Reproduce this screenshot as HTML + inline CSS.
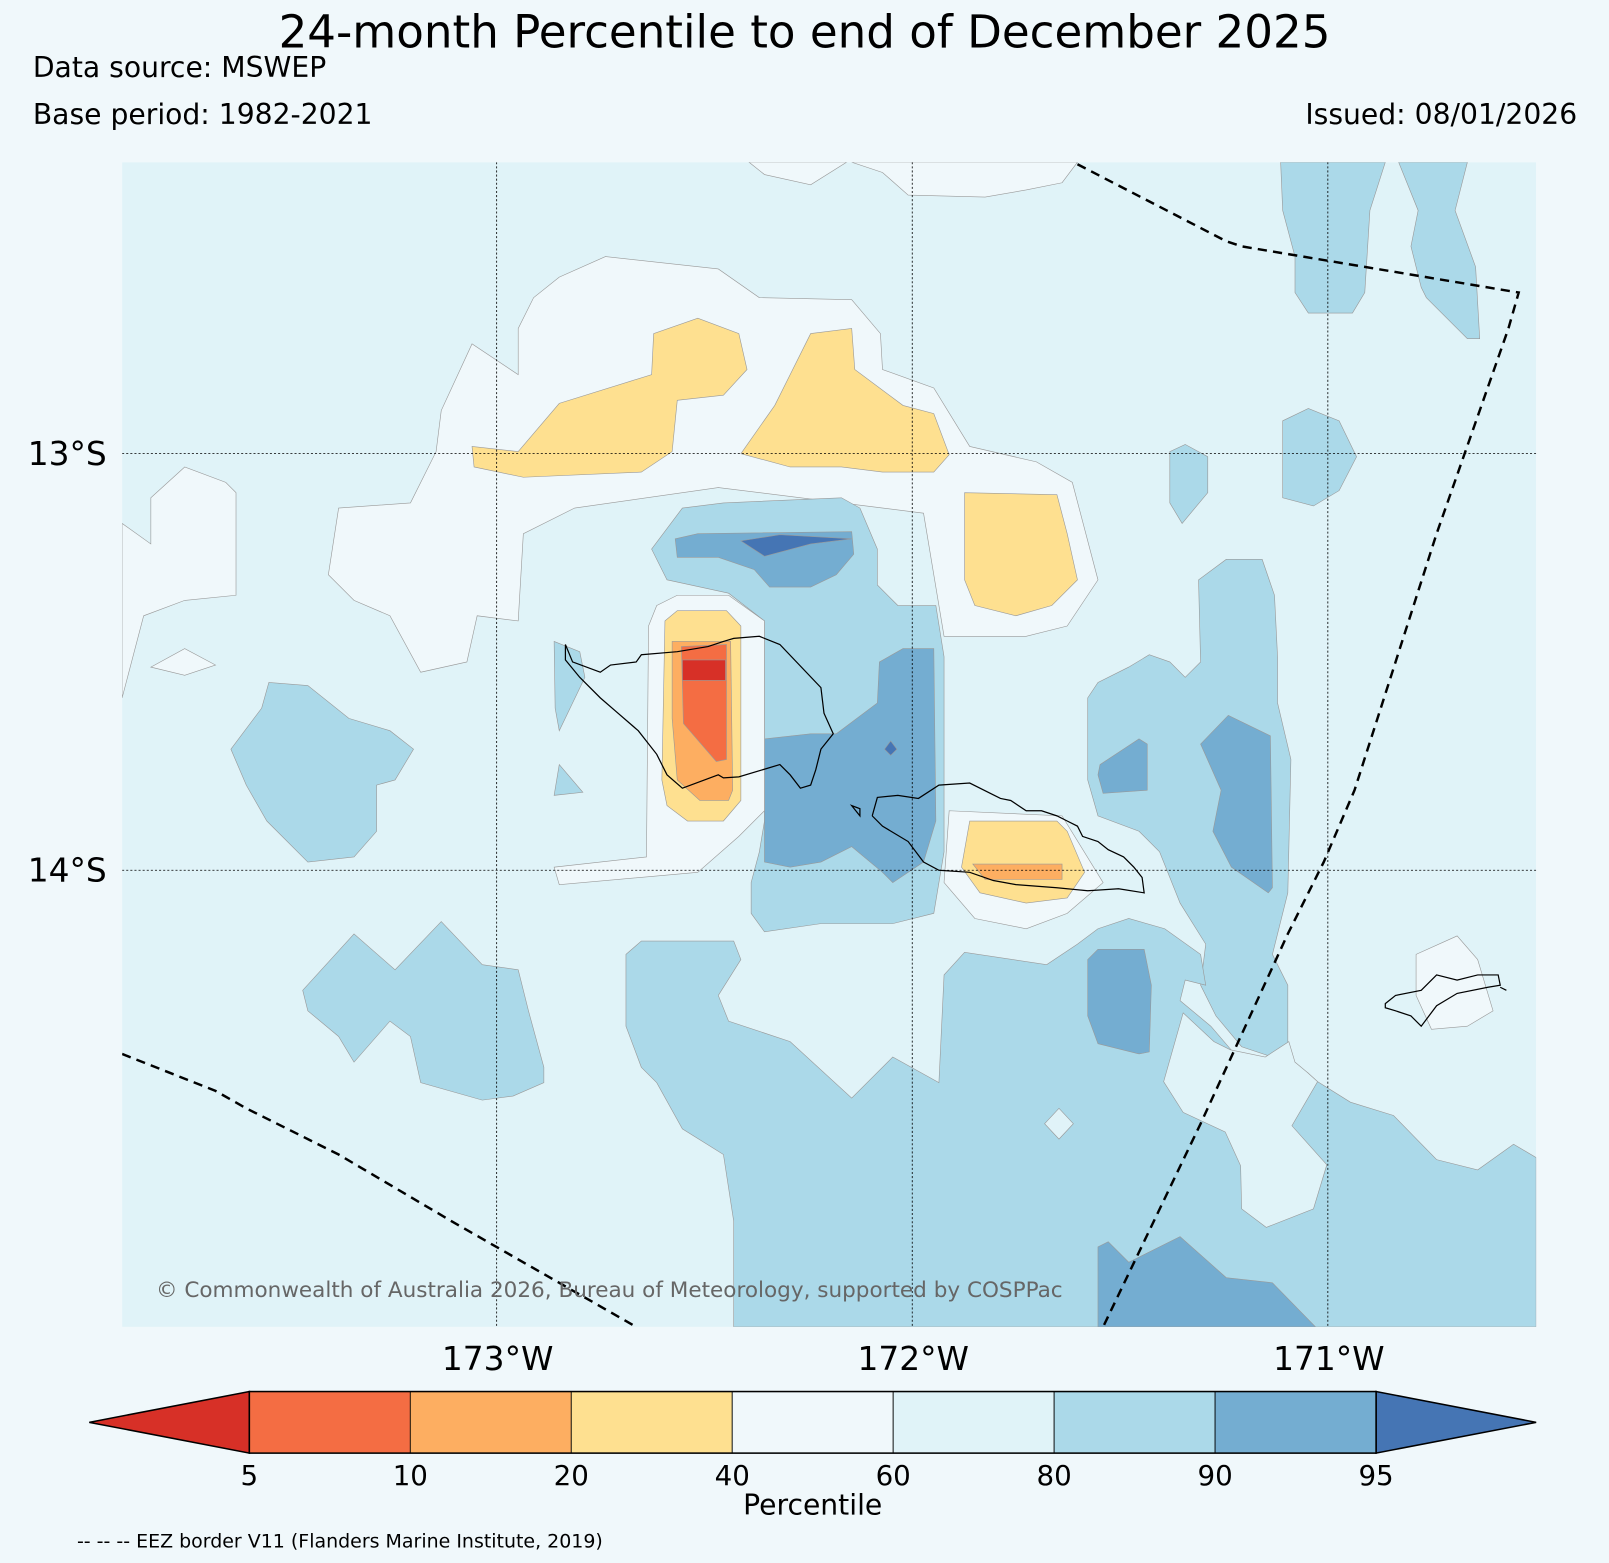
<!DOCTYPE html>
<html><head><meta charset="utf-8"><style>
html,body{margin:0;padding:0;background:#f0f8fb;}
svg{display:block;font-family:"DejaVu Sans","Liberation Sans",sans-serif;}
.c{stroke:#999;stroke-width:0.6;}
</style></head><body>
<svg id="fig" width="1609" height="1563" viewBox="0 0 1568 1523">
<rect width="1568" height="1523" fill="#f0f8fb"/>
<text x="784" y="46" font-size="44" text-anchor="middle">24-month Percentile to end of December 2025</text>
<text x="32" y="75" font-size="27.5">Data source: MSWEP</text>
<text x="32" y="121" font-size="27.5">Base period: 1982-2021</text>
<text x="1537" y="121" font-size="27.5" text-anchor="end">Issued: 08/01/2026</text>
<defs><clipPath id="mc"><rect x="119" y="158" width="1378" height="1135"/></clipPath></defs>
<g clip-path="url(#mc)">
<rect x="119" y="158" width="1378" height="1135" fill="#e0f3f8"/>
<g class="c">
<polygon fill="#f0f8fb" points="119,510 147,530 147,485 180,455 220,470 230,480 230,580 180,585 140,600 119,680"/>
<polygon fill="#f0f8fb" points="147,650 180,632 210,648 180,658"/>
<polygon fill="#f0f8fb" points="320,560 330,495 400,490 425,440 430,400 460,335 505,365 505,320 520,290 545,270 590,250 700,262 740,290 830,292 858,325 860,360 910,378 945,435 1010,450 1045,470 1070,565 1040,610 1000,620 920,620 900,500 700,475 560,495 510,520 505,605 465,600 455,645 410,655 380,600 345,585"/>
<polygon fill="#f0f8fb" points="730,158 745,170 790,180 825,158"/>
<polygon fill="#f0f8fb" points="830,158 860,168 885,190 960,192 1000,185 1035,178 1050,158"/>
<polygon fill="#fee090" points="460,435 505,440 545,393 635,365 637,325 680,310 720,325 728,360 705,385 660,390 655,440 625,460 510,465 462,455"/>
<polygon fill="#fee090" points="722,442 755,395 790,325 830,320 833,360 880,395 910,403 925,443 910,460 860,460 820,455 770,455"/>
<polygon fill="#fee090" points="940,480 1030,482 1040,520 1050,565 1025,590 990,600 950,590 940,565"/>
<polygon fill="#abd9e9" points="1248,158 1350,158 1335,205 1330,285 1318,305 1275,305 1262,285 1262,250 1250,205"/>
<polygon fill="#abd9e9" points="1363,158 1430,158 1418,205 1438,260 1442,330 1430,330 1390,290 1385,280 1375,240 1382,205"/>
<polygon fill="#abd9e9" points="1250,410 1275,398 1305,410 1322,445 1305,478 1280,493 1250,485"/>
<polygon fill="#abd9e9" points="1140,440 1155,433 1177,445 1177,480 1152,510 1140,490"/>
<polygon fill="#abd9e9" points="225,730 255,690 262,665 300,668 340,700 380,712 403,730 385,760 367,765 367,810 345,835 300,840 260,800 240,765"/>
<polygon fill="#abd9e9" points="540,625 565,635 570,660 545,712 541,690"/>
<polygon fill="#abd9e9" points="545,745 568,772 540,775"/>
<polygon fill="#abd9e9" points="635,535 665,495 705,490 820,485 838,495 855,535 855,570 875,590 912,590 920,640 920,830 910,890 870,900 800,900 745,908 732,890 732,860 740,830 745,800 745,605 710,578 650,565"/>
<polygon fill="#74add1" points="658,525 680,520 830,518 832,540 815,560 790,572 750,572 735,555 700,543 660,543"/>
<polygon fill="#4575b4" points="722,527 760,521 830,525 790,530 745,542"/>
<polygon fill="#74add1" points="745,720 790,715 815,715 855,685 857,645 880,632 910,632 912,800 900,840 870,860 860,850 830,825 800,840 770,845 745,840 745,780"/>
<polygon fill="#4575b4" points="862,730 868,722 874,730 868,736"/>
<polygon fill="#f0f8fb" points="640,590 660,580 710,580 745,605 745,790 720,815 680,850 545,862 540,845 630,835 632,610"/>
<polygon fill="#fee090" points="648,605 660,595 708,595 722,610 722,780 705,800 670,800 650,785 645,760"/>
<polygon fill="#fdae61" points="655,625 712,625 714,770 710,780 682,780 660,760 655,700"/>
<polygon fill="#f46d43" points="664,630 708,628 708,740 698,742 666,705"/>
<polygon fill="#d73027" points="665,643 707,643 707,663 665,663"/>
<polygon fill="#f0f8fb" points="925,790 1035,795 1075,860 1040,890 1000,905 950,895 920,860"/>
<polygon fill="#fee090" points="945,800 1030,800 1040,810 1057,850 1040,875 1000,880 955,870 937,845"/>
<polygon fill="#fdae61" points="948,842 1035,842 1035,857 960,857"/>
<polygon fill="#abd9e9" points="1060,680 1070,665 1100,650 1120,638 1140,645 1155,660 1170,645 1168,565 1195,545 1230,545 1242,580 1245,640 1245,685 1258,740 1255,870 1250,890 1240,930 1255,960 1255,1020 1240,1030 1210,1020 1185,990 1170,960 1175,920 1150,880 1130,830 1110,810 1070,795 1060,760"/>
<polygon fill="#74add1" points="1070,755 1072,745 1110,720 1118,725 1118,770 1075,773"/>
<polygon fill="#74add1" points="1170,725 1197,697 1238,717 1240,865 1236,870 1200,845 1182,810 1190,770"/>
<polygon fill="#abd9e9" points="295,965 345,910 385,945 430,898 470,940 505,945 515,985 530,1040 530,1055 500,1068 470,1072 410,1055 400,1010 380,995 345,1035 330,1010 300,985"/>
<polygon fill="#abd9e9" points="610,930 625,917 715,917 722,935 700,970 710,995 770,1015 830,1070 870,1030 915,1055 920,950 940,928 1020,940 1050,920 1070,905 1100,895 1135,905 1170,930 1175,960 1155,955 1150,975 1180,1000 1210,1035 1260,1050 1274,1045 1284,1054 1316,1074 1358,1087 1400,1130 1440,1140 1475,1115 1497,1128 1497,1293 715,1293 715,1190 705,1125 665,1100 640,1055 625,1040 610,1000"/>
<polygon fill="#e0f3f8" points="1153,987 1183,1015 1199,1023 1233,1030 1256,1015 1262,1035 1274,1045 1284,1054 1259,1097 1293,1135 1280,1178 1234,1196 1210,1178 1209,1136 1194,1103 1153,1084 1134,1054"/>
<polygon fill="#e0f3f8" points="1018,1095 1032,1080 1046,1095 1032,1110"/>
<polygon fill="#74add1" points="1060,935 1070,925 1115,925 1122,960 1120,1025 1110,1027 1070,1017 1060,990"/>
<polygon fill="#74add1" points="1070,1215 1080,1210 1100,1230 1150,1205 1195,1245 1240,1250 1282,1293 1070,1293"/>
<polygon fill="#f0f8fb" points="1380,930 1420,912 1440,935 1455,985 1430,1000 1395,1003 1380,970"/>
</g>
<g id="grid" stroke="#000" stroke-width="0.8" stroke-dasharray="2,2"></g>
<g fill="none" stroke="#000" stroke-width="1.2">
<polygon points="551,628 558,645 585,655 595,648 620,645 625,638 660,635 690,630 705,625 715,622 740,620 760,628 800,670 803,695 812,715 800,730 795,750 790,765 780,768 770,755 760,745 720,757 705,758 700,755 665,768 650,755 640,735 622,712 600,693 585,680 565,660 551,643"/>
<polyline points="850,795 855,777 875,775 895,778 915,765 945,763 965,773 975,778 985,780 1000,790 1015,790 1030,795 1040,800 1050,805 1055,815 1070,820 1080,828 1095,835 1105,845 1113,855 1115,870 1090,866 1060,868 1030,865 990,862 968,858 945,850 915,848 900,840 885,820 860,805 850,795"/>
<polygon points="830,785 838,788 838,795"/>
<polygon points="1350,978 1360,970 1385,965 1400,950 1420,955 1440,950 1460,950 1462,960 1450,962 1420,968 1400,980 1385,1000 1375,990 1360,985 1350,982"/>
<line x1="1462" y1="962" x2="1468" y2="965"/>
</g>
<g fill="none" stroke="#000" stroke-width="2.4" stroke-dasharray="9,6">
<polyline points="119,1027 210,1063 240,1080 330,1125 440,1190 620,1293"/>
<polyline points="1050,160 1195,235 1210,240 1480,285 1470,320 1400,520 1320,770 1290,840 1255,910 1170,1095 1075,1293"/>
</g>
<text x="152" y="1264" font-size="21" fill="#666">© Commonwealth of Australia 2026, Bureau of Meteorology, supported by COSPPac</text>
</g>
<g id="axes"></g>
<g id="cbar"></g>
<text x="792" y="1476" font-size="27.5" text-anchor="middle">Percentile</text>
<text x="75" y="1508" font-size="18.5">-- -- -- EEZ border V11 (Flanders Marine Institute, 2019)</text>
</svg>
<script>
const lonTicks=[-173,-172,-171];
const lonLabels=["173°W","172°W","171°W"];
const latTicks=[-13,-14];
const latLabels=["13°S","14°S"];
const cbLevels=[5,10,20,40,60,80,90,95];
const cbColors=["#f46d43","#fdae61","#fee090","#f0f8fb","#e0f3f8","#abd9e9","#74add1"];
const cbUnder="#d73027", cbOver="#4575b4";
const NS="http://www.w3.org/2000/svg";
function xLon(l){return 889+(l+172)*405;}
function yLat(l){return 848-(l+14)*406;}
function mk(t,a,p){const e=document.createElementNS(NS,t);for(const k in a)e.setAttribute(k,a[k]);p.appendChild(e);return e;}
const grid=document.getElementById('grid'),axes=document.getElementById('axes'),cb=document.getElementById('cbar');
lonTicks.forEach((v,i)=>{const x=xLon(v);
 const l=mk('line',{x1:x,y1:158,x2:x,y2:1293},grid);
 
 
 const t=mk('text',{x:x+1,y:1335,'font-size':32,'text-anchor':'middle'},axes);t.textContent=lonLabels[i];
 
 });
latTicks.forEach((v,i)=>{const y=yLat(v);
 const l=mk('line',{x1:119,y1:y,x2:1497,y2:y},grid);
 
 
 const t=mk('text',{x:104,y:y+11,'font-size':32,'text-anchor':'end'},axes);t.textContent=latLabels[i];
 
 });
const cx0=243,cx1=1341,cy0=1356,cy1=1416,n=cbLevels.length-1;
function cbX(i){return cx0+(cx1-cx0)*i/n;}
const u=mk('polygon',{points:`87,${(cy0+cy1)/2} ${cx0},${cy0} ${cx0},${cy1}`,fill:cbUnder,stroke:'#000','stroke-width':1.5},cb);


const o=mk('polygon',{points:`1497,${(cy0+cy1)/2} ${cx1},${cy0} ${cx1},${cy1}`,fill:cbOver,stroke:'#000','stroke-width':1.5},cb);


cbColors.forEach((c,i)=>{const r=mk('rect',{x:cbX(i),y:cy0,width:cbX(i+1)-cbX(i),height:cy1-cy0,fill:c,stroke:'#000','stroke-width':0.8},cb);
 
 });
mk('rect',{x:cx0,y:cy0,width:cx1-cx0,height:cy1-cy0,fill:'none',stroke:'#000','stroke-width':1.5},cb);
cbLevels.forEach((v,i)=>{const t=mk('text',{x:cbX(i),y:1447,'font-size':27,'text-anchor':'middle'},cb);t.textContent=v;
 
 });
</script>
</body></html>
